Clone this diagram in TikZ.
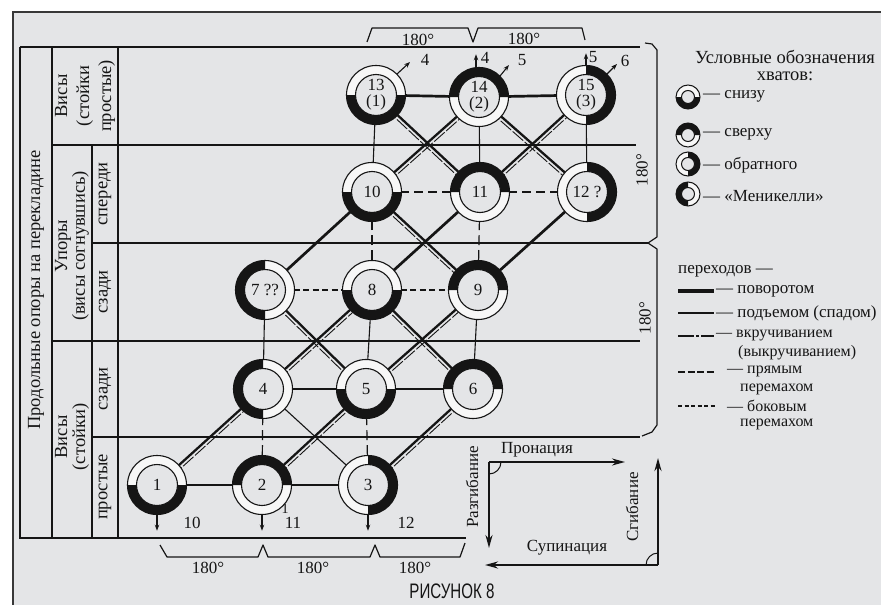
\documentclass[tikz,border=0pt]{standalone}
\usepackage{fontspec}
\setmainfont{Liberation Serif}
\newfontfamily\capsans{Liberation Sans}
\usetikzlibrary{calc,arrows.meta}
\pgfdeclarelayer{bglayer}
\pgfdeclarelayer{edgelayer}
\pgfsetlayers{bglayer,edgelayer,main}
\definecolor{paper}{HTML}{E4E5E7}
\definecolor{ringwhite}{HTML}{F7F7F7}
\definecolor{ink}{HTML}{151515}
\newcommand\txtsz{\fontsize{17}{19}\selectfont}
\newcommand\legsz{\fontsize{16}{18}\selectfont}
\newcommand\tabsz{\fontsize{18.5}{20}\selectfont}
\newcommand\numsz{\fontsize{17}{16}\selectfont}
% #1 x, #2 y, #3 start angle of black half, #4 outer radius, #5 inner radius, #6 line width
\newcommand\ringshape[6]{%
  \begin{scope}[shift={(#1,#2)}]
    \fill[ringwhite] (0,0) circle[radius=#4];
    \fill[ink] (#3:#4) arc[start angle=#3, delta angle=180, radius=#4]
       -- ({#3+180}:#5) arc[start angle=#3+180, delta angle=-180, radius=#5] -- cycle;
    \fill[paper] (0,0) circle[radius=#5];
    \draw[ink, line width=#6] (0,0) circle[radius=#5];
    \draw[ink, line width=#6] (0,0) circle[radius=#4];
  \end{scope}}
% #1 name, #2 x, #3 y, #4 angle, #5 text
\newcommand\grip[5]{%
  \ringshape{#2}{#3}{#4}{29.5}{20.5}{1.1pt}
  \node[gripnode] (#1) at (#2,#3) {#5};}
\newcommand\dblconn[2]{%
  \draw[dblmain] (#1.center) -- (#2.center);
  \draw[dblthin] ($(#1.center)!3.6pt!-90:(#2.center)$) -- ($(#2.center)!3.6pt!90:(#1.center)$);}
\tikzset{
  gripnode/.style={circle, minimum size=59pt, inner sep=0pt, font=\numsz, text=ink, align=center},
  lab/.style={font=\txtsz, text=ink, inner sep=0pt},
  leg/.style={font=\legsz, text=ink, inner sep=0pt, anchor=west},
  tlab/.style={font=\tabsz, text=ink, inner sep=0pt, rotate=90, align=center},
  tline/.style={ink, line width=1.1pt},
  cheavy/.style={ink, line width=2.7pt},
  cmedium/.style={ink, line width=2.2pt},
  cthin/.style={ink, line width=1.1pt},
  sidedash/.style={ink, line width=1.5pt, dash pattern=on 6pt off 3.5pt},
  sidedashb/.style={ink, line width=1.6pt, dash pattern=on 9pt off 5pt},
  longdash/.style={ink, line width=1.2pt, dash pattern=on 10pt off 5pt},
  dblmain/.style={ink, line width=2.3pt},
  dblthin/.style={ink, line width=0.9pt, dash pattern=on 14pt off 2pt},
  smallarr/.style={ink, line width=1.1pt, -{Stealth[length=6pt,width=4.5pt]}},
  axisarr/.style={ink, line width=2pt, -{Stealth[length=13pt,width=7pt]}},
  bracepath/.style={ink, line width=1.2pt, line join=round},
}
\begin{document}
\begin{tikzpicture}[x=1pt,y=1pt]
\useasboundingbox (0,0) rectangle (881,-605);
\begin{pgfonlayer}{bglayer}
\fill[white] (0,0) rectangle (881,-605);
\fill[paper] (13,-12) rectangle (881,-605);
\draw[ink!85, line width=1.6pt] (13,-605) -- (13,-12) -- (881,-12);
\draw[tline] (20,-47) -- (640,-47);
\draw[tline] (20,-47) -- (20,-538) -- (466,-538);
\draw[tline] (52,-47) -- (52,-538);
\draw[tline] (118,-47) -- (118,-538);
\draw[tline] (92,-145) -- (92,-538);
\draw[tline] (52,-145) -- (636,-145);
\draw[tline] (92,-243) -- (648,-243);
\draw[tline] (52,-341) -- (640,-341);
\draw[tline] (92,-437) -- (640,-437);
\end{pgfonlayer}

% table labels
\node[tlab] at (36,-290) {Продольные опоры на перекладине};
\node[tlab, font=\fontsize{18.5}{22}\selectfont] at (85,-96) {Висы\\(стойки\\простые)};
\node[tlab, font=\fontsize{18.5}{16}\selectfont] at (72,-246) {Упоры\\(висы согнувшись)};
\node[tlab] at (105,-194) {спереди};
\node[tlab] at (105,-292) {сзади};
\node[tlab, font=\fontsize{18.5}{18}\selectfont] at (72,-437) {Висы\\(стойки)};
\node[tlab] at (105,-389) {сзади};
\node[tlab] at (105,-487) {простые};

% grip nodes
\grip{n1}{157}{-485}{180}{1}
\grip{n2}{262}{-485}{0}{2}
\grip{n3}{368}{-485}{-90}{3}
\grip{n4}{263}{-389}{90}{4}
\grip{n5}{366}{-389}{180}{5}
\grip{n6}{473}{-389}{0}{6}
\grip{n7}{265}{-290}{90}{7 ??}
\grip{n8}{372}{-290}{180}{8}
\grip{n9}{478}{-290}{0}{9}
\grip{n10}{372}{-192}{180}{10}
\grip{n11}{480}{-192}{0}{11}
\grip{n12}{587}{-192}{-90}{12 ?}
\grip{n13}{376}{-95}{180}{13\\(1)}
\grip{n14}{479}{-97}{0}{14\\(2)}
\grip{n15}{586}{-95}{-90}{15\\(3)}

\begin{pgfonlayer}{edgelayer}
% horizontals
\draw[cheavy] (n1.center) -- (n2.center);
\draw[cheavy] (n2.center) -- (n3.center);
\draw[cmedium] (n4.center) -- (n5.center);
\draw[cmedium] (n5.center) -- (n6.center);
\draw[sidedash] (n7.center) -- (n8.center);
\draw[sidedash] (n8.center) -- (n9.center);
\draw[sidedashb] (n10.center) -- (n11.center);
\draw[sidedashb] (n11.center) -- (n12.center);
\draw[cheavy] (n13.center) -- (n14.center);
\draw[cheavy] (n14.center) -- (n15.center);
% verticals
\draw[longdash] (n2.center) -- (n4.center);
\draw[longdash] (n3.center) -- (n5.center);
\draw[cthin] (n4.center) -- (n7.center);
\draw[cthin] (n5.center) -- (n8.center);
\draw[cthin] (n6.center) -- (n9.center);
\draw[longdash] (n8.center) -- (n10.center);
\draw[longdash] (n9.center) -- (n11.center);
\draw[cthin] (n10.center) -- (n13.center);
\draw[cthin] (n11.center) -- (n14.center);
\draw[cthin] (n12.center) -- (n15.center);
% diagonals
\dblconn{n1}{n4}
\dblconn{n2}{n5}
\dblconn{n3}{n6}
\dblconn{n4}{n8}
\dblconn{n5}{n9}
\dblconn{n7}{n5}
\dblconn{n8}{n6}
\dblconn{n10}{n9}
\dblconn{n10}{n14}
\dblconn{n11}{n15}
\dblconn{n13}{n11}
\dblconn{n14}{n12}
\draw[cheavy] (n7.center) -- (n10.center);
\draw[cheavy] (n8.center) -- (n11.center);
\draw[cheavy] (n9.center) -- (n12.center);
\draw[cthin] (n4.center) -- (n3.center);
\end{pgfonlayer}

% small arrows at top
\draw[smallarr] (n13.45) -- ++(13,12);
\node[lab] at (425,-60) {4};
\draw[smallarr] ($(n14.north)+(-3,0)$) -- ++(0,13);
\node[lab] at (485,-58) {4};
\draw[smallarr] (n14.45) -- ++(9,11);
\node[lab] at (522,-60) {5};
\draw[smallarr] (n15.north) -- ++(0,12);
\node[lab] at (593,-57) {5};
\draw[smallarr] (n15.45) -- ++(10,10);
\node[lab] at (625,-61) {6};
% bottom arrows
\draw[smallarr] (n1.south) -- ++(0,-16);
\draw[smallarr] (n2.south) -- ++(0,-16);
\draw[smallarr] (n3.south) -- ++(0,-16);
\node[lab] at (192,-523) {10};
\node[lab] at (293,-523) {11};
\node[lab] at (406,-523) {12};
\node[lab, font=\fontsize{14}{14}\selectfont] at (285,-509) {1};

% braces
\draw[bracepath] (367,-42) -- (372,-28) -- (468,-28) -- (473,-42) -- (478,-28) -- (582,-28) -- (585,-40);
\node[lab] at (418,-40) {180°};
\node[lab] at (524,-39) {180°};
\draw[bracepath] (160,-545) -- (167,-557) -- (258,-557) -- (263,-545) -- (268,-557) -- (370,-557) -- (375,-545) -- (380,-557) -- (460,-557) -- (465,-543);
\node[lab] at (208,-568) {180°};
\node[lab] at (313,-568) {180°};
\node[lab] at (415,-568) {180°};
\draw[bracepath] (645,-43) -- (652,-44) -- (657,-50) -- (657,-237) -- (648,-243) -- (657,-249) -- (657,-425) -- (652,-432) -- (642,-436);
\node[lab, rotate=90] at (642,-170) {180°};
\node[lab, rotate=90] at (645,-318) {180°};

% legend grips
\node[lab, font=\fontsize{18.5}{17}\selectfont] at (785,-57) {Условные обозначения};
\node[lab, font=\fontsize{18.5}{17}\selectfont] at (785,-76) {хватов:};
\ringshape{688}{-97}{180}{12}{6.5}{1pt}
\ringshape{688}{-135}{0}{12}{6.5}{1pt}
\ringshape{688}{-164}{-90}{12}{6.5}{1pt}
\ringshape{688}{-194}{90}{12}{6.5}{1pt}
\node[lab, anchor=west] at (703,-96) {— снизу};
\node[lab, anchor=west] at (703,-134) {— сверху};
\node[lab, anchor=west] at (703,-165) {— обратного};
\node[lab, anchor=west] at (703,-196) {— «Меникелли»};

% legend transitions
\node[lab, anchor=west] at (678,-271) {переходов —};
\draw[ink, line width=4pt] (678,-291) -- (714,-291);
\node[lab, anchor=west] at (716,-291) {— поворотом};
\draw[ink, line width=2pt] (678,-313) -- (714,-313);
\node[lab, anchor=west] at (716,-313) {— подъемом (спадом)};
\draw[ink, line width=1.6pt, dash pattern=on 16pt off 2pt on 3pt off 2pt on 13pt] (678,-336) -- (714,-336);
\node[leg] at (716,-335) {— вкручиванием};
\node[leg] at (738,-353) {(выкручиванием)};
\draw[ink, line width=1.3pt, dash pattern=on 7pt off 2.5pt] (678,-372) -- (716,-372);
\node[leg] at (727,-371) {— прямым};
\node[leg] at (740,-389) {перемахом};
\draw[ink, line width=1.3pt, dash pattern=on 4pt off 2.5pt] (678,-406) -- (716,-406);
\node[leg] at (727,-406) {— боковым};
\node[leg] at (740,-424.5) {перемахом};

% axes
\coordinate (c1) at (489,-462);
\coordinate (c2) at (658,-565);
\coordinate (e1) at (625,-462);
\coordinate (e2) at (489,-548);
\coordinate (e3) at (658,-458);
\coordinate (e4) at (485,-565);
\draw[axisarr] (c1) -- (e1);
\draw[axisarr] (c1) -- (e2);
\draw[ink, line width=1pt] (501,-462) arc[start angle=0, end angle=-90, radius=12];
\draw[axisarr] (c2) -- (e3);
\draw[axisarr] (c2) -- (e4);
\draw[ink, line width=1pt] (658,-553) arc[start angle=90, end angle=180, radius=12];
\node[lab] at (537,-450) {Пронация};
\node[lab] at (567,-548) {Супинация};
\node[lab, rotate=90] at (472,-487) {Разгибание};
\node[lab, rotate=90] at (632,-507) {Сгибание};

\node[text=ink, inner sep=0pt] at (452,-591) {\scalebox{0.72}[1]{\capsans\fontsize{21}{21}\selectfont РИСУНОК 8}};
\end{tikzpicture}
\end{document}
